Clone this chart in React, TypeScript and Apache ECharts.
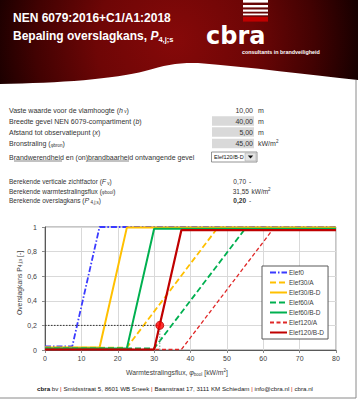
import React, { useEffect, useRef } from "react";
import * as echarts from "echarts";

// ---- Data ----
const seriesNames = ["Elef0", "Elef30/A", "Elef30/B-D", "Elef60/A", "Elef60/B-D", "Elef120/A", "Elef120/B-D"];
const elef0X = [0, 7.5, 15, 80];
const elef0Y = [0.03, 0.03, 1, 1];
const elef30AX = [0, 22.5, 47.5, 80];
const elef30AY = [0.02, 0.02, 0.995, 0.995];
const elef30BDX = [0, 15, 22.5, 80];
const elef30BDY = [0.02, 0.02, 0.995, 0.995];
const elef60AX = [0, 30, 55, 80];
const elef60AY = [0.013, 0.013, 0.985, 0.985];
const elef60BDX = [0, 22.5, 30, 80];
const elef60BDY = [0.013, 0.013, 0.985, 0.985];
const elef120AX = [0, 37.5, 62.5, 80];
const elef120AY = [0.004, 0.004, 0.975, 0.975];
const elef120BDX = [0, 30, 37.5, 80];
const elef120BDY = [0.004, 0.004, 0.975, 0.975];
const resultFlux = 31.55;
const resultP = 0.2;

const formLabels = [
  "Vaste waarde voor de vlamhoogte (",
  "Breedte gevel NEN 6079-compartiment (",
  "Afstand tot observatiepunt (",
  "Bronstraling (",
];
const formValues = ["10,00", "40,00", "5,00", "45,00"];
const formUnits = ["m", "m", "m", "kW/m"];
const selectedOption = "Elef120/B-D";
const resultValues = ["0,70", "31,55", "0,20"];

const pairs = (xs: number[], ys: number[]) => xs.map((x, i) => [x, ys[i]]);

const FONT = "Liberation Sans";

export default function App() {
  const ref = useRef<HTMLDivElement>(null);
  useEffect(() => {
    if (!ref.current) return;
    try {
      echarts.graphic.registerShape(
        "hill",
        echarts.graphic.extendPath(
          "M0,84 C60,83 115,79 145,71 C165,65 178,62.5 198,63 C250,67 310,75 358,80 L358,92 L0,92 Z",
          {}
        )
      );
    } catch (e) {}
    const chart = echarts.init(ref.current, null, { renderer: "svg" });

    const txt = (x: number, y: number, text: string, opts: any = {}) => ({
      type: "text",
      x,
      y,
      silent: true,
      style: {
        text,
        fontFamily: FONT,
        fontSize: 7,
        fill: "#333333",
        verticalAlign: "middle",
        align: "left",
        ...opts,
      },
    });

    const subRich = {
      i: { fontStyle: "italic", fontSize: 7, fontFamily: FONT, fill: "#333" },
      sub: { fontSize: 4.5, fontFamily: FONT, verticalAlign: "bottom", padding: [3, 0, 0, 0], fill: "#333" },
      sup: { fontSize: 4.5, fontFamily: FONT, padding: [0, 0, 4, 0], fill: "#333" },
    };

    const rowY = [110, 121, 132, 143.5];
    const formGraphics: any[] = [];
    const suffixes = ["{i|h}{sub| v})", "{i|b})", "{i|x})", "{sub|φbron})"];
    formLabels.forEach((l, i) => {
      formGraphics.push(txt(9, rowY[i], l + suffixes[i], { rich: subRich }));
      if (i > 0) {
        formGraphics.push({
          type: "rect",
          silent: true,
          shape: { x: 212, y: rowY[i] - 4.8, width: 42, height: 9.6 },
          style: { fill: "#d9d9d9" },
        });
      }
      formGraphics.push(txt(253, rowY[i], formValues[i], { align: "right", fill: "#333" }));
      formGraphics.push(
        txt(258, rowY[i], i === 3 ? formUnits[i] + "{sup|2}" : formUnits[i], { rich: subRich })
      );
    });
    // row 5
    formGraphics.push(txt(9, 157, "Brandwerendheid en (on)brandbaarheid ontvangende gevel"));
    formGraphics.push({ type: "line", silent: true, shape: { x1: 14, y1: 161, x2: 62, y2: 161 }, style: { stroke: "#333", lineWidth: 0.6 } });
    formGraphics.push({ type: "line", silent: true, shape: { x1: 87, y1: 161, x2: 129, y2: 161 }, style: { stroke: "#333", lineWidth: 0.6 } });
    formGraphics.push({ type: "rect", silent: true, shape: { x: 211.5, y: 152, width: 45.5, height: 10 }, style: { fill: "#fff", stroke: "#7a7a7a", lineWidth: 0.8 } });
    formGraphics.push(txt(214, 157.2, selectedOption, { fontSize: 5.5, fill: "#111" }));
    formGraphics.push({ type: "rect", silent: true, shape: { x: 245, y: 153, width: 11, height: 8 }, style: { fill: "#e4e4e4", stroke: "#a0a0a0", lineWidth: 0.5 } });
    formGraphics.push({ type: "polygon", silent: true, shape: { points: [[247.8, 155.5], [253.2, 155.5], [250.5, 158.6]] }, style: { fill: "#111" } });

    // results
    const resY = [181.5, 191, 200.5];
    formGraphics.push(txt(9, resY[0], "Berekende verticale zichtfactor ({i|F}{sub| v})", { fontSize: 6.5, rich: subRich }));
    formGraphics.push(txt(9, resY[1], "Berekende warmtestralingsflux ({sub|φbool})", { fontSize: 6.5, rich: subRich }));
    formGraphics.push(txt(9, resY[2], "Berekende overslagkans ({i|P}{sub| 4,j;s})", { fontSize: 6.5, rich: subRich }));
    formGraphics.push(txt(246, resY[0], resultValues[0], { align: "right", fontSize: 6.5 }));
    formGraphics.push(txt(249, resY[0], "-", { fontSize: 6.5 }));
    formGraphics.push(txt(249, resY[1], resultValues[1], { align: "right", fontSize: 6.5 }));
    formGraphics.push(txt(251.5, resY[1], "kW/m{sup|2}", { fontSize: 6.5, rich: subRich }));
    formGraphics.push(txt(246, resY[2], resultValues[2], { align: "right", fontSize: 6.5, fontWeight: "bold" }));
    formGraphics.push(txt(249, resY[2], "-", { fontSize: 6.5 }));

    const headerGraphics: any[] = [
      {
        type: "rect",
        silent: true,
        shape: { x: 0, y: 0, width: 358, height: 90 },
        style: {
          fill: new echarts.graphic.RadialGradient(175, 40, 225, [
            { offset: 0, color: "#860909" },
            { offset: 0.35, color: "#6e0606" },
            { offset: 0.62, color: "#420202" },
            { offset: 0.82, color: "#180000" },
            { offset: 1, color: "#050000" },
          ], true),
        },
      },
      { type: "hill", x: 0, y: 0, silent: true, style: { fill: "#ffffff" } },
      txt(13, 18, "NEN 6079:2016+C1/A1:2018", { fill: "#fff", fontWeight: "bold", fontSize: 12, fontFamily: FONT }),
      txt(13, 36, "Bepaling overslagkans, {p|P}{s|4,j;s}", {
        fill: "#fff",
        fontWeight: "bold",
        fontSize: 12,
        rich: {
          p: { fill: "#fff", fontStyle: "italic", fontWeight: "bold", fontSize: 12, fontFamily: FONT },
          s: { fill: "#fff", fontSize: 7.5, fontWeight: "bold", fontFamily: FONT, verticalAlign: "bottom", padding: [6, 0, 0, 0] },
        },
      }),
      // logo stripes
      { type: "rect", silent: true, shape: { x: 243, y: 0, width: 25, height: 2.6 }, style: { fill: "#fff" } },
      { type: "rect", silent: true, shape: { x: 243, y: 5, width: 25, height: 2.4 }, style: { fill: "#fff" } },
      { type: "rect", silent: true, shape: { x: 243, y: 9.5, width: 25, height: 2.2 }, style: { fill: "#fff" } },
      { type: "rect", silent: true, shape: { x: 243, y: 13.5, width: 25, height: 1.8 }, style: { fill: "#fff" } },
      { type: "rect", silent: true, shape: { x: 243, y: 16.8, width: 25, height: 4.8 }, style: { fill: "#c00000" } },
      txt(206, 47.5, "cbra", { fill: "#fff", fontSize: 24, lineHeight: 24, verticalAlign: "bottom", fontWeight: "bold", fontFamily: "DejaVu Sans" }),
      txt(242, 52, "consultants in brandveiligheid", { fill: "#fff", fontSize: 5.4, lineHeight: 6, fontWeight: "bold", fontFamily: FONT }),
    ];

    const chartTexts: any[] = [
      {
        type: "text",
        silent: true,
        x: 19,
        y: 283,
        rotation: Math.PI / 2,
        style: {
          text: "Overslagkans P{s|4,j;s} [-]",
          fontFamily: FONT,
          fontSize: 6.8,
          fill: "#404040",
          align: "center",
          verticalAlign: "middle",
          rich: { s: { fontSize: 4.5, fill: "#404040", fontFamily: FONT, verticalAlign: "bottom", padding: [3, 0, 0, 0] } },
        },
      },
      txt(177, 372, "Warmtestralingsflux, {i|φ}{s|bool} [kW/m{u|2}]", {
        align: "center",
        fontSize: 6.8,
        fill: "#404040",
        rich: {
          i: { fontStyle: "italic", fontSize: 7, fill: "#404040", fontFamily: FONT },
          s: { fontSize: 4.5, fill: "#404040", fontFamily: FONT, verticalAlign: "bottom", padding: [3, 0, 0, 0] },
          u: { fontSize: 4.5, fill: "#404040", fontFamily: FONT, padding: [0, 0, 4, 0] },
        },
      }),
      txt(175, 388.5, "{b|cbra} bv {r||} Smidsstraat 5, 8601 WB Sneek {r||} Baanstraat 17, 3111 KM Schiedam {r||} info@cbra.nl {r||} cbra.nl", {
        align: "center",
        fontSize: 6.2,
        fill: "#222",
        rich: {
          b: { fontWeight: "bold", fontSize: 6.2, fill: "#111", fontFamily: FONT },
          r: { fontSize: 6.2, fill: "#d01010", fontFamily: FONT },
        },
      }),
      { type: "line", silent: true, shape: { x1: 356, y1: 80, x2: 356, y2: 398 }, style: { stroke: "#8a8a8a", lineWidth: 1 } },
      { type: "line", silent: true, shape: { x1: 0, y1: 398, x2: 356, y2: 398 }, style: { stroke: "#8a8a8a", lineWidth: 1 } },
    ];

    const mk = (name: string, data: number[][], color: string, type: any, width: number, z: number) => ({
      name,
      type: "line",
      data,
      symbol: "none",
      z,
      color,
      lineStyle: { color, type, width },
      itemStyle: { color: "rgba(0,0,0,0)", borderWidth: 0 },
      emphasis: { disabled: true },
    });

    const option: any = {
      animation: false,
      grid: { left: 45, top: 227, width: 291, height: 123, show: true, borderColor: "#8c8c8c", borderWidth: 1 },
      xAxis: {
        type: "value",
        min: 0,
        max: 80,
        interval: 10,
        axisLine: { show: true, lineStyle: { color: "#595959" } },
        axisTick: { show: true, length: 3, lineStyle: { color: "#8c8c8c" } },
        axisLabel: { color: "#404040", fontSize: 7, fontFamily: FONT, margin: 5 },
        splitLine: { show: true, lineStyle: { color: "#d9d9d9", width: 1 } },
      },
      yAxis: {
        type: "value",
        min: 0,
        max: 1,
        interval: 0.2,
        axisLine: { show: true, lineStyle: { color: "#595959" } },
        axisTick: { show: true, length: 3, lineStyle: { color: "#8c8c8c" } },
        axisLabel: {
          color: "#404040",
          fontSize: 7,
          fontFamily: FONT,
          margin: 8,
          formatter: (v: number) => (v === 0 || v === 1 ? String(v) : v.toFixed(1).replace(".", ",")),
        },
        splitLine: { show: true, lineStyle: { color: "#d9d9d9", width: 1 } },
      },
      legend: {
        data: seriesNames,
        orient: "vertical",
        left: 262,
        top: 266,
        padding: [3, 4, 3, 7],
        itemWidth: 17,
        itemHeight: 8,
        itemGap: 3,
        backgroundColor: "#fff",
        borderColor: "#595959",
        borderWidth: 1,
        itemStyle: { opacity: 0 },
        textStyle: { fontSize: 6.5, color: "#404040", fontFamily: FONT, padding: [0, 4, 0, -3] },
      },
      series: [
        mk("Elef0", pairs(elef0X, elef0Y), "#3a3aff", [6, 2, 1.5, 2], 1.8, 2),
        mk("Elef30/A", pairs(elef30AX, elef30AY), "#ffc000", [6, 3], 1.8, 3),
        mk("Elef30/B-D", pairs(elef30BDX, elef30BDY), "#ffc000", "solid", 2, 4),
        mk("Elef60/A", pairs(elef60AX, elef60AY), "#00b050", [6, 3], 1.8, 5),
        mk("Elef60/B-D", pairs(elef60BDX, elef60BDY), "#00b050", "solid", 2, 6),
        mk("Elef120/A", pairs(elef120AX, elef120AY), "#e02828", [4, 2.5], 1.3, 7),
        mk("Elef120/B-D", pairs(elef120BDX, elef120BDY), "#c00000", "solid", 2.2, 8),
        {
          name: "hline",
          type: "line",
          data: [[0, resultP], [resultFlux, resultP]],
          symbol: "none",
          z: 9,
          lineStyle: { color: "#333", type: [1.5, 1.5], width: 1 },
        },
        {
          name: "vline",
          type: "line",
          data: [[resultFlux, 0], [resultFlux, resultP]],
          symbol: "none",
          z: 9,
          lineStyle: { color: "#999", type: [1.5, 1.5], width: 1.2 },
        },
        {
          name: "punt",
          type: "scatter",
          data: [[resultFlux, resultP]],
          symbolSize: 8,
          z: 10,
          itemStyle: { color: "#ff0000", borderColor: "#b00000", borderWidth: 1 },
        },
      ],
      graphic: [...headerGraphics, ...formGraphics, ...chartTexts],
    };
    chart.setOption(option);
    return () => chart.dispose();
  }, []);
  return <div ref={ref} style={{ position: "absolute", left: 0, top: 0, width: 358, height: 400, background: "#fff" }} />;
}
